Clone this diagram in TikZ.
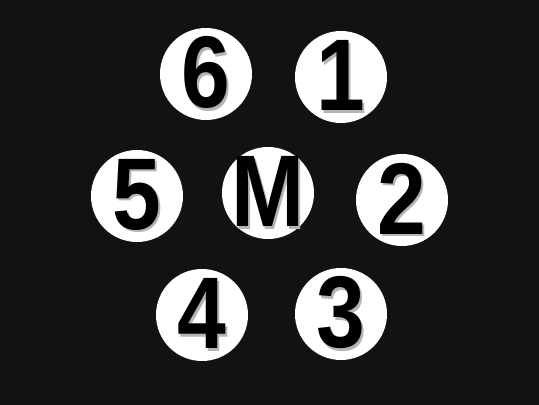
\documentclass[tikz,border=0pt]{standalone}
\usepackage{graphicx}
\usepackage{fontspec}
\setmainfont{Liberation Sans}
\definecolor{PanelBg}{HTML}{121212}
\definecolor{ShadowGray}{HTML}{B4B4B4}
\newcommand{\shadowed}[1]{\makebox[0pt][l]{\hspace{1.3pt}\raisebox{-1.3pt}{\textcolor{ShadowGray}{#1}}}#1}

\begin{document}
\begin{tikzpicture}[x=0.02cm,y=-0.02cm,
    disc/.style={circle,fill=white,minimum size=92*0.02cm,inner sep=0pt},
    digit/.style={font=\fontsize{58}{58}\selectfont\bfseries,text=black,inner sep=0pt}]
        \fill[PanelBg] (0,0) rectangle (539,405);
        \useasboundingbox (0,0) rectangle (539,405);
        \foreach \x/\y/\label/\name in {206/74/6/six,341/77/1/one,137/196/5/five,268/193/M/mid,402/200/2/two,202/315/4/four,341/314/3/three} {
          \node[disc,label={[digit]center:\scalebox{0.86}[1]{\shadowed{\label}}}] (\name) at (\x,\y) {};
        }
      \end{tikzpicture}
\end{document}
